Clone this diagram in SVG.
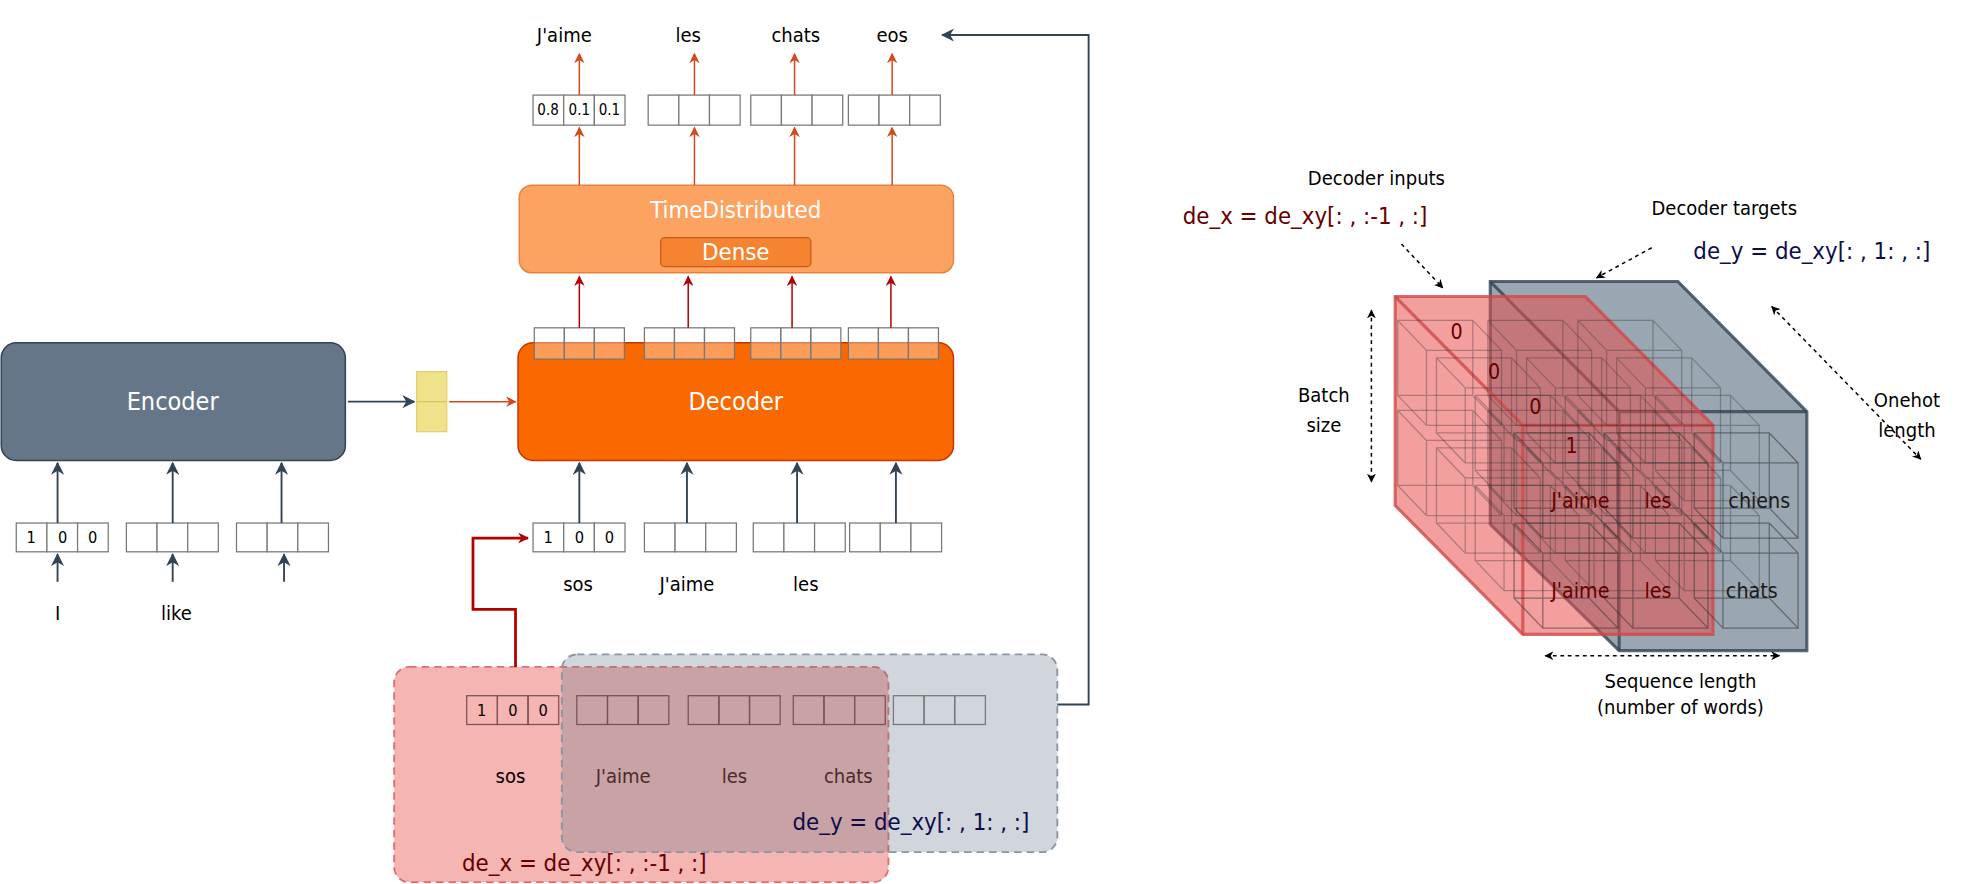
<svg xmlns="http://www.w3.org/2000/svg" width="1962" height="884" viewBox="0 0 1962 884">
<defs>
<style>
text{font-family:"DejaVu Sans Condensed","DejaVu Sans",sans-serif;text-anchor:middle;dominant-baseline:central}
.lbl{font-size:16px;fill:#000}
.big{font-size:20px;fill:#fff}
.cell{fill:#fff;stroke:#777;stroke-width:1}
.cellt{fill:#fff;fill-opacity:0.35;stroke:#777;stroke-width:1}
.cellx{fill:none;stroke:#7a5050;stroke-width:1}
.num{font-size:13px;fill:#000}
.dk{stroke:#314354;stroke-width:1.5;fill:none}
.rd{stroke:#B20000;stroke-width:1.2;fill:none}
.or{stroke:#d2491b;stroke-width:1.2;fill:none}
.dash{stroke:#000;stroke-width:1.2;fill:none;stroke-dasharray:3 3}
.cube{fill:none;stroke:#333;stroke-opacity:0.35;stroke-width:1}
</style>
<marker id="ad" viewBox="0 0 10 10" refX="9" refY="5" markerWidth="7" markerHeight="7" orient="auto-start-reverse"><path d="M0,0 L10,5 L0,10 L3,5 Z" fill="#314354"/></marker>
<marker id="ar" viewBox="0 0 10 10" refX="9" refY="5" markerWidth="7" markerHeight="7" orient="auto-start-reverse"><path d="M0,0 L10,5 L0,10 L3,5 Z" fill="#B20000"/></marker>
<marker id="ao" viewBox="0 0 10 10" refX="9" refY="5" markerWidth="7" markerHeight="7" orient="auto-start-reverse"><path d="M0,0 L10,5 L0,10 L3,5 Z" fill="#d2491b"/></marker>
<marker id="ab" viewBox="0 0 10 10" refX="9" refY="5" markerWidth="6" markerHeight="6" orient="auto-start-reverse"><path d="M0,0 L10,5 L0,10 L3,5 Z" fill="#000"/></marker>
<marker id="arr" viewBox="0 0 10 10" refX="9" refY="5" markerWidth="4" markerHeight="4" orient="auto"><path d="M0,0 L10,5 L0,10 L3,5 Z" fill="#B20000"/></marker>
</defs>
<g transform="scale(1.25128)">
<g id="dex-box"><rect x="315" y="533" width="395" height="172" rx="12" fill="#f19c99" fill-opacity="0.75" stroke="#e07070" stroke-width="1.5" stroke-dasharray="6 4"/></g>
<g id="dey-box"><rect x="449" y="523" width="396" height="158" rx="12" fill="#647687" fill-opacity="0.3" stroke="#8a96a3" stroke-width="1.5" stroke-dasharray="6 4"/></g>
<g id="seq-cells">
<rect class="cellx" x="373" y="556" width="24.5" height="23"/><rect class="cellx" x="397.5" y="556" width="24.5" height="23"/><rect class="cellx" x="422" y="556" width="24.5" height="23"/>
<text class="num" x="385" y="567.5">1</text><text class="num" x="410" y="567.5">0</text><text class="num" x="434" y="567.5">0</text>
<rect class="cellx" x="461" y="556" width="24.5" height="23"/><rect class="cellx" x="485.5" y="556" width="24.5" height="23"/><rect class="cellx" x="510" y="556" width="24.5" height="23"/>
<rect class="cellx" x="550" y="556" width="24.5" height="23"/><rect class="cellx" x="574.5" y="556" width="24.5" height="23"/><rect class="cellx" x="599" y="556" width="24.5" height="23"/>
<rect class="cellx" x="634" y="556" width="24.5" height="23"/><rect class="cellx" x="658.5" y="556" width="24.5" height="23"/><rect class="cellx" x="683" y="556" width="24.5" height="23"/>
<rect x="714" y="556" width="24.5" height="23" fill="none" stroke="#777"/><rect x="738.5" y="556" width="24.5" height="23" fill="none" stroke="#777"/><rect x="763" y="556" width="24.5" height="23" fill="none" stroke="#777"/>
<text class="lbl" x="408" y="620">sos</text>
<text class="lbl" x="498" y="620" style="fill:#4a2a2a">J'aime</text>
<text class="lbl" x="587" y="620" style="fill:#4a2a2a">les</text>
<text class="lbl" x="678" y="620" style="fill:#4a2a2a">chats</text>
<text x="728" y="657" style="font-size:19px;fill:#0d0d4d">de_y = de_xy[: , 1: , :]</text>
<text x="467" y="690" style="font-size:19px;fill:#660000">de_x = de_xy[: , :-1 , :]</text>
</g>
<g id="encoder"><rect x="1" y="274" width="275" height="94" rx="12" fill="#647687" stroke="#314354" stroke-width="1.2"/><text class="big" x="138" y="321">Encoder</text></g>
<g id="state"><rect x="333" y="297" width="24" height="48" fill="#f0e28a" stroke="#e0cf6a"/><line x1="333" y1="321" x2="357" y2="321" stroke="#d6c35a"/></g>
<g id="decoder"><rect x="414" y="274" width="348" height="94" rx="12" fill="#fa6800" stroke="#c73500" stroke-width="1.2"/><text class="big" x="588" y="321">Decoder</text></g>
<g id="timedist"><rect x="415" y="148" width="347" height="70" rx="10" fill="#fca362" stroke="#e88240" stroke-width="1.2"/><text class="big" x="588" y="168" style="font-size:19px">TimeDistributed</text>
<rect x="528" y="190" width="120" height="23" rx="3" fill="#f5832f" stroke="#c75a1d"/><text class="big" x="588" y="201.5" style="font-size:19px">Dense</text></g>
<g id="dec-out-cells">
<rect class="cellt" x="427" y="262" width="24" height="25"/><rect class="cellt" x="451" y="262" width="24" height="25"/><rect class="cellt" x="475" y="262" width="24" height="25"/>
<rect class="cellt" x="515" y="262" width="24" height="25"/><rect class="cellt" x="539" y="262" width="24" height="25"/><rect class="cellt" x="563" y="262" width="24" height="25"/>
<rect class="cellt" x="600" y="262" width="24" height="25"/><rect class="cellt" x="624" y="262" width="24" height="25"/><rect class="cellt" x="648" y="262" width="24" height="25"/>
<rect class="cellt" x="678" y="262" width="24" height="25"/><rect class="cellt" x="702" y="262" width="24" height="25"/><rect class="cellt" x="726" y="262" width="24" height="25"/>
</g>
<g id="prob-cells">
<rect class="cell" x="426" y="76" width="24.5" height="24"/><rect class="cell" x="450.5" y="76" width="24.5" height="24"/><rect class="cell" x="475" y="76" width="24.5" height="24"/>
<text class="num" x="438" y="88" style="font-size:12px">0.8</text><text class="num" x="463" y="88" style="font-size:12px">0.1</text><text class="num" x="487" y="88" style="font-size:12px">0.1</text>
<rect class="cell" x="518" y="76" width="24.5" height="24"/><rect class="cell" x="542.5" y="76" width="24.5" height="24"/><rect class="cell" x="567" y="76" width="24.5" height="24"/>
<rect class="cell" x="600" y="76" width="24.5" height="24"/><rect class="cell" x="624.5" y="76" width="24.5" height="24"/><rect class="cell" x="649" y="76" width="24.5" height="24"/>
<rect class="cell" x="678" y="76" width="24.5" height="24"/><rect class="cell" x="702.5" y="76" width="24.5" height="24"/><rect class="cell" x="727" y="76" width="24.5" height="24"/>
<text class="lbl" x="451" y="28">J'aime</text><text class="lbl" x="550" y="28">les</text><text class="lbl" x="636" y="28">chats</text><text class="lbl" x="713" y="28">eos</text>
</g>
<g id="enc-in">
<rect class="cell" x="13" y="418" width="24.5" height="23"/><rect class="cell" x="37.5" y="418" width="24.5" height="23"/><rect class="cell" x="62" y="418" width="24.5" height="23"/>
<text class="num" x="25" y="429.5">1</text><text class="num" x="50" y="429.5">0</text><text class="num" x="74" y="429.5">0</text>
<rect class="cell" x="101" y="418" width="24.5" height="23"/><rect class="cell" x="125.5" y="418" width="24.5" height="23"/><rect class="cell" x="150" y="418" width="24.5" height="23"/>
<rect class="cell" x="189" y="418" width="24.5" height="23"/><rect class="cell" x="213.5" y="418" width="24.5" height="23"/><rect class="cell" x="238" y="418" width="24.5" height="23"/>
<text class="lbl" x="46" y="490">I</text><text class="lbl" x="141" y="490">like</text>
</g>
<g id="dec-in">
<rect class="cell" x="426" y="418" width="24.5" height="23"/><rect class="cell" x="450.5" y="418" width="24.5" height="23"/><rect class="cell" x="475" y="418" width="24.5" height="23"/>
<text class="num" x="438" y="429.5">1</text><text class="num" x="463" y="429.5">0</text><text class="num" x="487" y="429.5">0</text>
<rect class="cell" x="515" y="418" width="24.5" height="23"/><rect class="cell" x="539.5" y="418" width="24.5" height="23"/><rect class="cell" x="564" y="418" width="24.5" height="23"/>
<rect class="cell" x="602" y="418" width="24.5" height="23"/><rect class="cell" x="626.5" y="418" width="24.5" height="23"/><rect class="cell" x="651" y="418" width="24.5" height="23"/>
<rect class="cell" x="679" y="418" width="24.5" height="23"/><rect class="cell" x="703.5" y="418" width="24.5" height="23"/><rect class="cell" x="728" y="418" width="24.5" height="23"/>
<text class="lbl" x="462" y="467">sos</text><text class="lbl" x="549" y="467">J'aime</text><text class="lbl" x="644" y="467">les</text>
</g>
<g id="connectors">
<path class="dk" marker-end="url(#ad)" d="M46,465 V443"/><path class="dk" marker-end="url(#ad)" d="M138,465 V443"/><path class="dk" marker-end="url(#ad)" d="M227,465 V443"/>
<path class="dk" marker-end="url(#ad)" d="M46,418 V370"/><path class="dk" marker-end="url(#ad)" d="M138,418 V370"/><path class="dk" marker-end="url(#ad)" d="M225,418 V370"/>
<path class="dk" marker-end="url(#ad)" d="M278,321 H331"/>
<path class="or" marker-end="url(#ao)" d="M359,321 H412"/>
<path class="dk" marker-end="url(#ad)" d="M463,418 V370"/><path class="dk" marker-end="url(#ad)" d="M549,418 V370"/><path class="dk" marker-end="url(#ad)" d="M637,418 V370"/><path class="dk" marker-end="url(#ad)" d="M716,418 V370"/>
<path class="rd" marker-end="url(#ar)" d="M463,262 V221"/><path class="rd" marker-end="url(#ar)" d="M550,262 V221"/><path class="rd" marker-end="url(#ar)" d="M633,262 V221"/><path class="rd" marker-end="url(#ar)" d="M712,262 V221"/>
<path class="or" marker-end="url(#ao)" d="M463,148 V102"/><path class="or" marker-end="url(#ao)" d="M555,148 V102"/><path class="or" marker-end="url(#ao)" d="M635,148 V102"/><path class="or" marker-end="url(#ao)" d="M713,148 V102"/>
<path class="or" marker-end="url(#ao)" d="M463,76 V43"/><path class="or" marker-end="url(#ao)" d="M555,76 V43"/><path class="or" marker-end="url(#ao)" d="M635,76 V43"/><path class="or" marker-end="url(#ao)" d="M713,76 V43"/>
<path d="M412,533 V487 H378 V430 H422" stroke="#B20000" stroke-width="2.2" fill="none" marker-end="url(#arr)"/>
<path class="dk" marker-end="url(#ad)" d="M845,563 H870 V28 H753"/>
</g>
<g id="tensor">
<polygon points="1191,225 1341,225 1444,329 1444,520 1294,520 1191,419" fill="#647687" fill-opacity="0.65" stroke="#314354" stroke-opacity="0.8" stroke-width="2.5"/>
<polyline points="1191,225 1294,329 1444,329" fill="none" stroke="#314354" stroke-opacity="0.8" stroke-width="2.5"/>
<line x1="1294" y1="329" x2="1294" y2="520" stroke="#314354" stroke-opacity="0.8" stroke-width="2.5"/>
<polygon points="1115,237 1267,237 1369,340 1369,507 1217,507 1115,404" fill="#e8504e" fill-opacity="0.55" stroke="#d04848" stroke-opacity="0.8" stroke-width="2.5"/>
<polyline points="1115,237 1217,340 1369,340" fill="none" stroke="#d04848" stroke-opacity="0.8" stroke-width="2.5"/>
<line x1="1217" y1="340" x2="1217" y2="507" stroke="#d04848" stroke-opacity="0.8" stroke-width="2.5"/>
<g class="cubes">
<g id="L3"><path class="cube" d="M1140,280h60v60h-60zM1117,256h60v60h-60zM1117,256l23,24M1177,256l23,24M1177,316l23,24M1117,316l23,24"/><path class="cube" d="M1212,280h60v60h-60zM1189,256h60v60h-60zM1189,256l23,24M1249,256l23,24M1249,316l23,24M1189,316l23,24"/><path class="cube" d="M1284,280h60v60h-60zM1261,256h60v60h-60zM1261,256l23,24M1321,256l23,24M1321,316l23,24M1261,316l23,24"/><path class="cube" d="M1140,352h60v60h-60zM1117,328h60v60h-60zM1117,328l23,24M1177,328l23,24M1177,388l23,24M1117,388l23,24"/><path class="cube" d="M1212,352h60v60h-60zM1189,328h60v60h-60zM1189,328l23,24M1249,328l23,24M1249,388l23,24M1189,388l23,24"/><path class="cube" d="M1284,352h60v60h-60zM1261,328h60v60h-60zM1261,328l23,24M1321,328l23,24M1321,388l23,24M1261,388l23,24"/></g>
<g id="L2"><path class="cube" d="M1171,310h60v60h-60zM1148,286h60v60h-60zM1148,286l23,24M1208,286l23,24M1208,346l23,24M1148,346l23,24"/><path class="cube" d="M1243,310h60v60h-60zM1220,286h60v60h-60zM1220,286l23,24M1280,286l23,24M1280,346l23,24M1220,346l23,24"/><path class="cube" d="M1315,310h60v60h-60zM1292,286h60v60h-60zM1292,286l23,24M1352,286l23,24M1352,346l23,24M1292,346l23,24"/><path class="cube" d="M1171,382h60v60h-60zM1148,358h60v60h-60zM1148,358l23,24M1208,358l23,24M1208,418l23,24M1148,418l23,24"/><path class="cube" d="M1243,382h60v60h-60zM1220,358h60v60h-60zM1220,358l23,24M1280,358l23,24M1280,418l23,24M1220,418l23,24"/><path class="cube" d="M1315,382h60v60h-60zM1292,358h60v60h-60zM1292,358l23,24M1352,358l23,24M1352,418l23,24M1292,418l23,24"/></g>
<g id="L1"><path class="cube" d="M1202,340h60v60h-60zM1179,316h60v60h-60zM1179,316l23,24M1239,316l23,24M1239,376l23,24M1179,376l23,24"/><path class="cube" d="M1274,340h60v60h-60zM1251,316h60v60h-60zM1251,316l23,24M1311,316l23,24M1311,376l23,24M1251,376l23,24"/><path class="cube" d="M1346,340h60v60h-60zM1323,316h60v60h-60zM1323,316l23,24M1383,316l23,24M1383,376l23,24M1323,376l23,24"/><path class="cube" d="M1202,412h60v60h-60zM1179,388h60v60h-60zM1179,388l23,24M1239,388l23,24M1239,448l23,24M1179,448l23,24"/><path class="cube" d="M1274,412h60v60h-60zM1251,388h60v60h-60zM1251,388l23,24M1311,388l23,24M1311,448l23,24M1251,448l23,24"/><path class="cube" d="M1346,412h60v60h-60zM1323,388h60v60h-60zM1323,388l23,24M1383,388l23,24M1383,448l23,24M1323,448l23,24"/></g>
<g id="L0"><path class="cube" style="stroke-opacity:0.55" d="M1233,370h60v60h-60zM1210,346h60v60h-60zM1210,346l23,24M1270,346l23,24M1270,406l23,24M1210,406l23,24"/><path class="cube" style="stroke-opacity:0.55" d="M1305,370h60v60h-60zM1282,346h60v60h-60zM1282,346l23,24M1342,346l23,24M1342,406l23,24M1282,406l23,24"/><path class="cube" style="stroke-opacity:0.55" d="M1377,370h60v60h-60zM1354,346h60v60h-60zM1354,346l23,24M1414,346l23,24M1414,406l23,24M1354,406l23,24"/><path class="cube" style="stroke-opacity:0.55" d="M1233,442h60v60h-60zM1210,418h60v60h-60zM1210,418l23,24M1270,418l23,24M1270,478l23,24M1210,478l23,24"/><path class="cube" style="stroke-opacity:0.55" d="M1305,442h60v60h-60zM1282,418h60v60h-60zM1282,418l23,24M1342,418l23,24M1342,478l23,24M1282,478l23,24"/><path class="cube" style="stroke-opacity:0.55" d="M1377,442h60v60h-60zM1354,418h60v60h-60zM1354,418l23,24M1414,418l23,24M1414,478l23,24M1354,478l23,24"/></g>
</g>
<text x="1164" y="265" style="font-size:17px;fill:#660000">0</text>
<text x="1194" y="297" style="font-size:17px;fill:#660000">0</text>
<text x="1227" y="325" style="font-size:17px;fill:#660000">0</text>
<text x="1256" y="356" style="font-size:17px;fill:#660000">1</text>
<text x="1263" y="400" style="font-size:17px;fill:#660000">J'aime</text>
<text x="1325" y="400" style="font-size:17px;fill:#660000">les</text>
<text x="1406" y="400" style="font-size:17px;fill:#1a1a1a">chiens</text>
<text x="1263" y="472" style="font-size:17px;fill:#660000">J'aime</text>
<text x="1325" y="472" style="font-size:17px;fill:#660000">les</text>
<text x="1400" y="472" style="font-size:17px;fill:#1a1a1a">chats</text>
</g>
<g id="tensor-labels">
<text class="lbl" x="1100" y="142">Decoder inputs</text>
<text x="1043" y="173" style="font-size:19px;fill:#660000">de_x = de_xy[: , :-1 , :]</text>
<text class="lbl" x="1378" y="166">Decoder targets</text>
<text x="1448" y="201" style="font-size:19px;fill:#0d0d4d">de_y = de_xy[: , 1: , :]</text>
<text class="lbl" x="1058" y="316">Batch</text><text class="lbl" x="1058" y="340">size</text>
<text class="lbl" x="1524" y="320">Onehot</text><text class="lbl" x="1524" y="344">length</text>
<text class="lbl" x="1343" y="544">Sequence length</text><text class="lbl" x="1343" y="565">(number of words)</text>
</g>
<g id="dim-arrows">
<path class="dash" marker-end="url(#ab)" d="M1120,195 L1153,230"/>
<path class="dash" marker-end="url(#ab)" d="M1320,198 L1276,222"/>
<path class="dash" marker-start="url(#ab)" marker-end="url(#ab)" d="M1096,248 V385"/>
<path class="dash" marker-start="url(#ab)" marker-end="url(#ab)" d="M1416,245 L1535,367"/>
<path class="dash" marker-start="url(#ab)" marker-end="url(#ab)" d="M1235,524 H1422"/>
</g>
</g>
</svg>
